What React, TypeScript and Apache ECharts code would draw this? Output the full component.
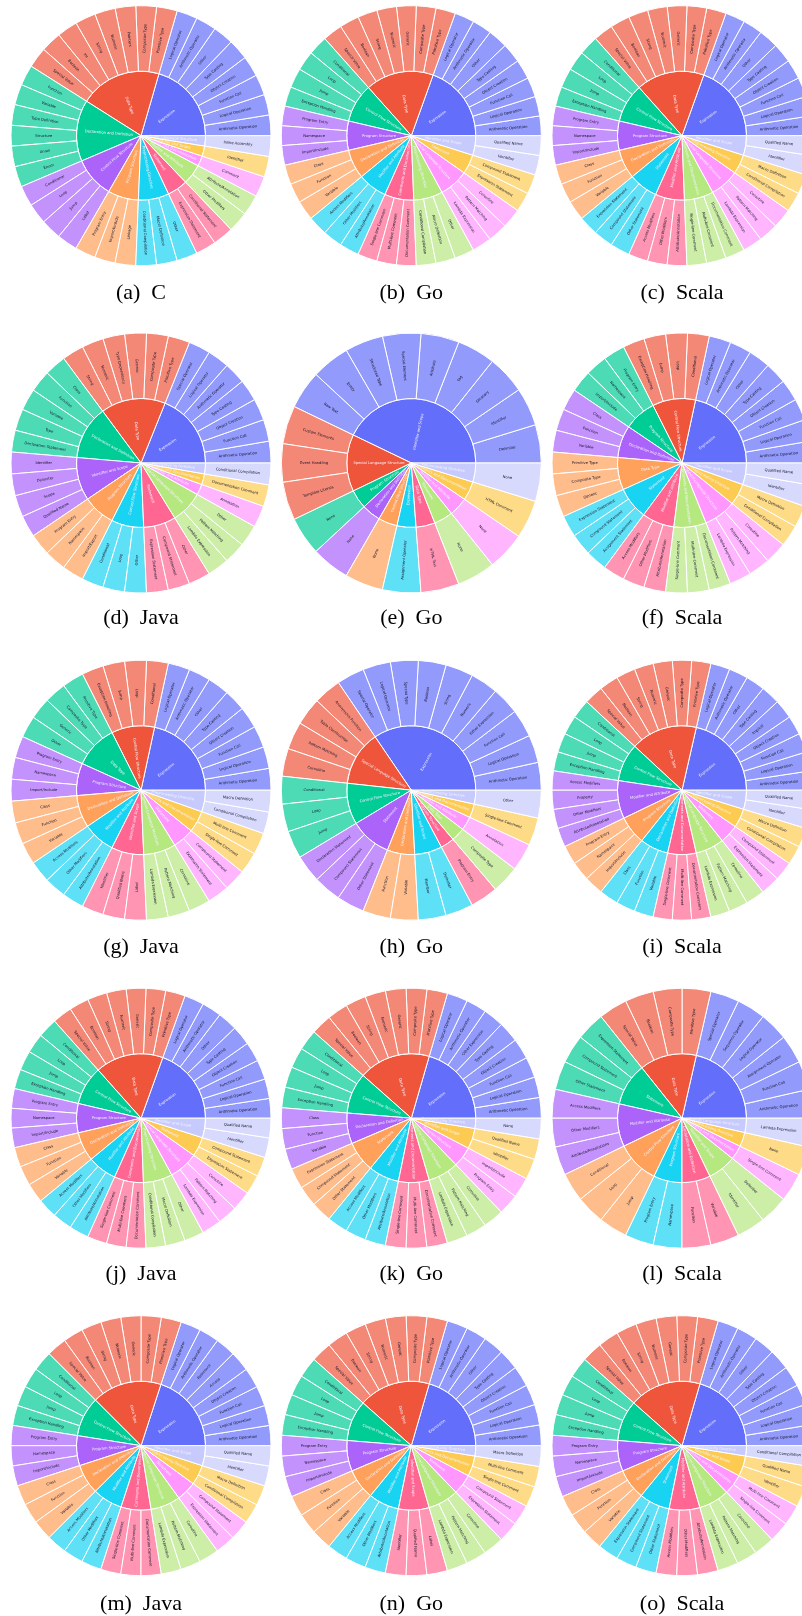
import React, { useEffect, useRef } from "react";
import * as echarts from "echarts";

const ringColors = ["#636efa", "#EF553B", "#00cc96", "#ab63fa", "#FFA15A", "#19d3f3", "#FF6692", "#B6E880", "#FF97FF", "#FECB52", "#c6cafd"];
const leafColors = ["#929afb", "#f48876", "#4ddbb6", "#c492fc", "#ffbd8c", "#5ee0f7", "#ff94b3", "#cceea6", "#ffb6ff", "#fedb86", "#d7dafd"];

const captions = ["(a)  C", "(b)  Go", "(c)  Scala", "(d)  Java", "(e)  Go", "(f)  Scala", "(g)  Java", "(h)  Go", "(i)  Scala", "(j)  Java", "(k)  Go", "(l)  Scala", "(m)  Java", "(n)  Go", "(o)  Scala"];

const EXPR = "Expression", DT = "Data Type", CF = "Control Flow Structure", PS = "Program Structure", DD = "Declaration and Definition", MA = "Modifier and Attribute", CD = "Comments and Documentation", SL = "Special Language Structure", ST = "Statement", PD = "Preprocessing Directive", IS = "Identifier and Scope";

const exprCommon = ["Arithmetic Operation", "Logical Operation", "Function Call", "Object Creation", "Type Casting", "Other", "Arithmetic Operator", "Logical Operator"];
const dataCommon = ["Primitive Type", "Composite Type", "Generic", "Numeric", "String", "Boolean", "Special Value"];
const cfCommon = ["Conditional", "Loop", "Jump", "Exception Handling"];
const psCommon = ["Program Entry", "Namespace", "Import/Include"];
const ddCommon = ["Class", "Function", "Variable"];
const maCommon = ["Access Modifiers", "Other Modifiers", "Attribute/Annotation"];
const cdCommon = ["Single-line Comment", "Multi-line Comment", "Documentation Comment"];
const slCommon = ["Lambda Expression", "Pattern Matching", "Coroutine"];
const stCommon = ["Expression Statement", "Compound Statement"];
const pdCommon = ["Conditional Compilation", "Macro Definition"];
const isCommon = ["Identifier", "Qualified Name"];

const aGroups = [EXPR, DT, DD, "Control Flow Structure", PS, PD, ST, MA, "Comment and Documentation", IS, "Other Language Structure"];
const aLeaves = [exprCommon, ["Primitive Type", "Composite Type", "Pointers", "Numeric", "String", "Int", "Boolean", "Special Value"], ["Function", "Variable", "Type Definition", "Structure", "Union", "Enum"], ["Conditional", "Loop", "Jump", "Label"], ["Program Entry", "Import/Include", "Linkage"], ["Conditional Compilation", "Macro Definition", "Other"], ["Expression Statement", "Conditional Statement"], ["Other Modifiers", "Attribute/Annotation"], ["Comment"], ["Identifier"], ["Inline Assembly"]];

const bGroups = [EXPR, DT, CF, PS, DD, MA, CD, PD, SL, ST, IS];
const bLeaves = [exprCommon, dataCommon, cfCommon, psCommon, ddCommon, maCommon, cdCommon, ["Conditional Compilation", "Macro Definition", "Other"], slCommon, stCommon, isCommon];

const cGroups = [EXPR, DT, CF, PS, DD, ST, MA, CD, SL, PD, IS];
const cLeaves = [exprCommon, dataCommon, cfCommon, psCommon, ddCommon, ["Expression Statement", "Compound Statement", "Other Statement"], maCommon, cdCommon, slCommon, pdCommon, isCommon];

const dGroups = [EXPR, DT, DD, IS, PS, CF, ST, SL, MA, CD, PD];
const dLeaves = [["Arithmetic Operation", "Function Call", "Object Creation", "Type Casting", "Arithmetic Operator", "Logical Operator", "Special Operator"], ["Primitive Type", "Composite Type", "Generic", "Type Dependency", "Numeric", "String"], ["Class", "Function", "Variable", "Type", "Declaration Statement"], ["Identifier", "Delimiter", "Scope", "Qualified Name"], ["Program Entry", "Namespace", "Import/Export"], ["Conditional", "Loop", "Other"], ["Expression Statement", "Compound Statement", "Other"], ["Lambda Expression", "Pattern Matching", "Other"], ["Annotation"], ["Documentation Comment"], ["Conditional Compilation"]];

const eGroups = [IS, SL, PS, DD, CF, EXPR, DT, ST, MA, CD, PD];
const eLeaves = [["Delimiter", "Identifier", "Glossary", "Tag", "Attribute", "Special Element", "Structured Type", "Entity", "Raw Text"], ["Custom Elements", "Event Handling", "Template Literals"], ["None"], ["None"], ["None"], ["Assignment Operator"], ["HTML Text"], ["None"], ["None"], ["HTML Comment"], ["None"]];

const fGroups = [EXPR, CF, PS, DD, DT, ST, MA, CD, SL, PD, IS];
const fLeaves = [exprCommon, cfCommon, psCommon, ddCommon, ["Primitive Type", "Composite Type", "Generic"], ["Expression Statement", "Compound Statement", "Assignment Statement"], maCommon, cdCommon, slCommon, pdCommon, isCommon];

const gGroups = [EXPR, CF, DT, PS, DD, MA, IS, SL, ST, CD, PD];
const gLeaves = [exprCommon, cfCommon, ["Primitive Type", "Composite Type", "Generic", "Other"], psCommon, ddCommon, maCommon, ["Identifier", "Qualified Name", "Label"], slCommon, stCommon, ["Single-line Comment", "Multi-line Comment"], pdCommon];

const hGroups = [EXPR, SL, CF, ST, DD, IS, PS, DT, MA, CD, PD];
const hLeaves = [["Arithmetic Operation", "Logical Operation", "Function Call", "Other Expression", "Numeric", "String", "Boolean", "Special Type", "Logical Operator", "Special Operator"], ["Anonymous Function", "Table Construction", "Pattern Matching", "Coroutine"], ["Conditional", "Loop", "Jump"], ["Declaration Statement", "Compound Statement", "Other Statement"], ["Function", "Variable"], ["Member", "Delimiter"], ["Program Entry"], ["Composite Type"], ["Annotation"], ["Single-line Comment"], ["Other"]];

const iGroups = [EXPR, DT, CF, MA, PS, DD, CD, SL, ST, PD, IS];
const iLeaves = [["Arithmetic Operation", "Logical Operation", "Function Call", "Object Creation", "Implicit", "Type Casting", "Other", "Arithmetic Operator", "Logical Operator"], dataCommon, cfCommon, ["Access Modifiers", "Property", "Other Modifiers", "Attribute/Annotation"], psCommon, ddCommon, cdCommon, slCommon, stCommon, pdCommon, isCommon];

const jGroups = [EXPR, DT, CF, PS, DD, MA, CD, PD, SL, ST, IS];
const jLeaves = [exprCommon, dataCommon, cfCommon, psCommon, ddCommon, maCommon, cdCommon, ["Conditional Compilation", "Macro Definition", "Other"], slCommon, stCommon, isCommon];

const kGroups = [EXPR, DT, CF, DD, ST, MA, CD, SL, PS, IS, PD];
const kLeaves = [["Arithmetic Operation", "Logical Operation", "Function Call", "Object Creation", "Type Casting", "Other Expression", "Arithmetic Operator", "Logical Operator"], dataCommon, cfCommon, ddCommon, ["Expression Statement", "Compound Statement", "Other Statement"], maCommon, cdCommon, slCommon, ["Program Entry", "Import/Include"], isCommon, ["None"]];

const lGroups = [EXPR, DT, ST, MA, CF, PS, DD, IS, CD, PD, SL];
const lLeaves = [["Arithmetic Operation", "Function Call", "Assignment Operator", "Logical Operator", "Sequence Operator", "Special Operator"], ["Primitive Type", "Composite Type", "Boolean", "Special Value"], ["Expression Statement", "Compound Statement", "Other Statement"], ["Access Modifiers", "Other Modifiers", "Attribute/Annotations"], ["Conditional", "Loop", "Jump"], ["Program Entry", "Namespace"], ["Function", "Variable"], ["Identifier", "Delimiter"], ["Single-line Comment"], ["None"], ["Lambda Expression"]];

const mGroups = [EXPR, DT, CF, PS, DD, MA, CD, SL, ST, PD, IS];
const mLeaves = [["Arithmetic Operation", "Logical Operation", "Function Call", "Object Creation", "Access", "Reference", "Arithmetic Operator", "Logical Operator"], dataCommon, cfCommon, psCommon, ddCommon, maCommon, cdCommon, slCommon, stCommon, pdCommon, isCommon];

const nGroups = [EXPR, DT, CF, PS, DD, MA, IS, SL, ST, CD, PD];
const nLeaves = [exprCommon, dataCommon, cfCommon, psCommon, ddCommon, maCommon, ["Identifier", "Qualified Name", "Label"], slCommon, stCommon, ["Single-line Comment", "Multi-line Comment"], ["Macro Definition"]];

const oGroups = [EXPR, DT, CF, PS, DD, ST, MA, SL, CD, IS, PD];
const oLeaves = [exprCommon, dataCommon, cfCommon, psCommon, ddCommon, ["Expression Statement", "Compound Statement", "Other Statement"], maCommon, slCommon, ["Single-line Comment", "Multi-line Comment"], isCommon, ["Conditional Compilation"]];

const allGroups = [aGroups, bGroups, cGroups, dGroups, eGroups, fGroups, gGroups, hGroups, iGroups, jGroups, kGroups, lGroups, mGroups, nGroups, oGroups];
const allLeaves = [aLeaves, bLeaves, cLeaves, dLeaves, eLeaves, fLeaves, gLeaves, hLeaves, iLeaves, jLeaves, kLeaves, lLeaves, mLeaves, nLeaves, oLeaves];

const leafValue = 1;
const columnX = [141, 411.3, 682];
const rowY = [135.7, 463, 790.2, 1118.2, 1445.7];
const captionY = [291, 616.5, 945, 1272, 1602];
const R_OUT = 130;
const R_IN = 64.5;

function App() {
  const ref = useRef<HTMLDivElement>(null);
  useEffect(() => {
    const chart = echarts.init(ref.current!, undefined, { renderer: "svg" });
    const series = allGroups.map((groups, idx) => ({
      type: "sunburst",
      silent: true,
      center: [columnX[idx % 3], rowY[Math.floor(idx / 3)]],
      radius: [0, R_OUT],
      startAngle: 0,
      clockwise: false,
      sort: null,
      nodeClick: false,
      emphasis: { focus: "none" },
      itemStyle: { borderColor: "#fff", borderWidth: 1 },
      label: { fontFamily: "DejaVu Sans", fontSize: 3.7, rotate: "radial" },
      levels: [
        {},
        { r0: 0, r: R_IN, label: { color: "#f4f4ff", align: "center" } },
        { r0: R_IN, r: R_OUT, label: { color: "#15152a", align: "center" } },
      ],
      data: groups.map((name, g) => ({
        name,
        itemStyle: { color: ringColors[g] },
        children: allLeaves[idx][g].map((leaf) => ({
          name: leaf,
          value: leafValue,
          itemStyle: { color: leafColors[g] },
        })),
      })),
    }));
    const graphic = captions.map((text, idx) => ({
      type: "text",
      x: columnX[idx % 3],
      y: captionY[Math.floor(idx / 3)],
      style: {
        text,
        fill: "#000",
        font: '22px "Liberation Serif"',
        textAlign: "center",
        textVerticalAlign: "middle",
      },
    }));
    chart.setOption({ animation: false, tooltip: { show: false }, series, graphic });
    return () => chart.dispose();
  }, []);
  return (
    <div
      ref={ref}
      style={{ position: "absolute", left: 0, top: 0, width: 802, height: 1616, filter: "blur(0.35px)", overflow: "hidden" }}
    />
  );
}

export default App;
